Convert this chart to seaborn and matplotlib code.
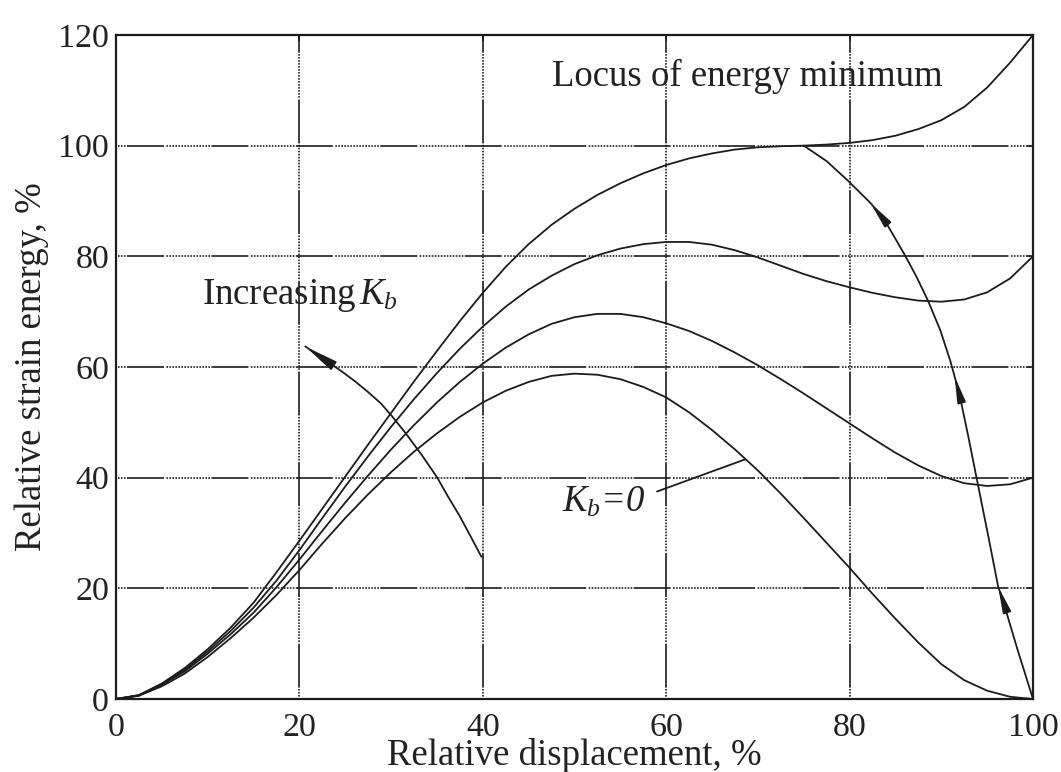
import matplotlib
matplotlib.use("Agg")
import matplotlib.pyplot as plt
import numpy as np
import pandas as pd
import seaborn as sns

# Relative displacement (%) at which the strain-energy curves are tabulated
displacement = [0, 2.5, 5, 7.5, 10, 12.5, 15, 17.5, 20, 22.5, 25, 27.5, 30, 32.5,
                35, 37.5, 40, 42.5, 45, 47.5, 50, 52.5, 55, 57.5, 60, 62.5, 65,
                67.5, 70, 72.5, 75, 77.5, 80, 82.5, 85, 87.5, 90, 92.5, 95, 97.5, 100]

# Relative strain energy (%) for four bending stiffnesses, highest K_b first
energy_kb3 = [0, 0.7, 2.8, 5.6, 9.0, 12.9, 17.4, 22.9, 28.6, 34.4, 40.2, 46.0, 51.7,
              57.4, 62.9, 68.3, 73.4, 78.1, 82.2, 85.7, 88.6, 91.1, 93.2, 95.0, 96.5,
              97.7, 98.6, 99.3, 99.7, 99.9, 100.0, 100.2, 100.5, 101.0, 101.8, 103.0,
              104.6, 107.0, 110.5, 115.0, 120.0]
energy_kb2 = [0, 0.7, 2.7, 5.3, 8.6, 12.3, 16.5, 21.4, 26.9, 32.7, 38.4, 43.9, 49.2,
              54.2, 58.9, 63.3, 67.3, 70.9, 74.0, 76.5, 78.6, 80.2, 81.4, 82.2, 82.6,
              82.6, 82.1, 81.1, 79.8, 78.3, 76.8, 75.5, 74.4, 73.4, 72.6, 72.0, 71.8,
              72.2, 73.5, 76.0, 80.0]
energy_kb1 = [0, 0.6, 2.6, 5.0, 8.2, 11.7, 15.6, 20.2, 25.2, 30.4, 35.5, 40.4, 45.1,
              49.5, 53.6, 57.3, 60.6, 63.5, 65.9, 67.8, 69.0, 69.6, 69.6, 69.0, 67.9,
              66.5, 64.7, 62.6, 60.3, 57.8, 55.2, 52.5, 49.8, 47.1, 44.5, 42.2, 40.3,
              39.0, 38.5, 38.8, 40.0]
energy_kb0 = [0, 0.6, 2.3, 4.6, 7.6, 11.0, 14.7, 18.8, 23.3, 28.1, 32.7, 37.0, 41.0,
              44.7, 48.0, 51.0, 53.6, 55.7, 57.3, 58.4, 58.8, 58.6, 57.8, 56.4, 54.5,
              51.8, 48.6, 45.1, 41.3, 37.1, 32.7, 28.2, 23.7, 19.0, 14.5, 10.2, 6.3,
              3.4, 1.5, 0.4, 0.0]

# Locus of the energy minimum
locus_x = [75.0, 77.5, 79.8, 82.3, 83.9, 86.0, 87.3, 88.6, 89.9, 91.0, 91.45, 92.0,
           92.9, 94.0, 95.2, 96.2, 96.7, 98.3, 100.0]
locus_y = [100.0, 97.2, 93.7, 89.6, 86.3, 80.3, 76.3, 71.8, 66.6, 61.0, 58.3, 54.9,
           47.8, 38.7, 28.8, 20.3, 17.9, 9.0, 0.0]
locus_arrow_tips = [3, 10, 15]  # arrowheads point back up the locus

# "Increasing K_b" pointer
kb_arrow_x = [39.85, 38.7, 37.5, 36.2, 35.0, 33.3, 31.6, 30.2, 28.9, 27.4, 26.0,
              24.7, 23.4, 22.0, 20.65]
kb_arrow_y = [25.7, 29.3, 33.0, 36.6, 40.1, 44.2, 48.0, 50.9, 53.4, 55.6, 57.5,
              59.1, 60.6, 62.2, 63.7]

# "K_b = 0" leader line
kb0_leader_x = [59.0, 68.6]
kb0_leader_y = [37.5, 43.3]

x_ticks = [0, 20, 40, 60, 80, 100]
y_ticks = [0, 20, 40, 60, 80, 100, 120]

sns.set_theme(style="white")
plt.rcParams["font.family"] = ["Liberation Serif", "DejaVu Serif"]
plt.rcParams["mathtext.fontset"] = "custom"
plt.rcParams["mathtext.rm"] = "Liberation Serif"
plt.rcParams["mathtext.it"] = "Liberation Serif:italic"
plt.rcParams["lines.scale_dashes"] = False

INK = "#1c1c1c"
TEXT = "#222222"
PX = 0.72  # points per pixel at 100 dpi


def grid_dashes(period, solid, start, dot=3.0, on=1.6):
    """Dotted grid pattern broken by one solid dash per period (sizes in px)."""
    gap = dot - on
    n = int((period - solid - gap) // dot)
    spare = period - solid - gap - n * dot
    seq = [solid, gap + spare / 2]
    for i in range(n):
        seq += [on, gap if i < n - 1 else gap + spare / 2]
    offset = (period - start) % period
    return (offset * PX, [s * PX for s in seq])


fig = plt.figure(figsize=(10.61, 7.72), dpi=100)
ax = fig.add_axes([116 / 1061, 73 / 772, 917 / 1061, 664 / 772])

ax.yaxis.grid(True, color=INK, linewidth=1.2,
              linestyle=grid_dashes(187.5, 37, 114))
ax.xaxis.grid(True, color=INK, linewidth=1.2,
              linestyle=grid_dashes(190, 44, 20))
ax.set_axisbelow(True)

n = len(displacement)
curves = pd.DataFrame({
    "displacement": displacement * 4,
    "energy": energy_kb3 + energy_kb2 + energy_kb1 + energy_kb0,
    "curve": ["kb3"] * n + ["kb2"] * n + ["kb1"] * n + ["kb0"] * n,
})
sns.lineplot(data=curves, x="displacement", y="energy", hue="curve",
             palette=[INK] * 4, legend=False, linewidth=1.3, ax=ax,
             estimator=None, sort=False)

sns.lineplot(x=locus_x, y=locus_y, color=INK, linewidth=1.3, ax=ax,
             estimator=None, sort=False)
for i in locus_arrow_tips:
    ax.annotate("", xy=(locus_x[i], locus_y[i]),
                xytext=(locus_x[i + 1], locus_y[i + 1]),
                arrowprops=dict(arrowstyle="-|>,head_length=0.62,head_width=0.1",
                                mutation_scale=25, color=INK, lw=1.3,
                                shrinkA=0, shrinkB=0))

sns.lineplot(x=kb_arrow_x, y=kb_arrow_y, color=INK, linewidth=1.3, ax=ax,
             estimator=None, sort=False)
ax.annotate("", xy=(kb_arrow_x[-1], kb_arrow_y[-1]),
            xytext=(kb_arrow_x[-3], kb_arrow_y[-3]),
            arrowprops=dict(arrowstyle="-|>,head_length=0.8,head_width=0.12",
                            mutation_scale=25, color=INK, lw=1.3,
                            shrinkA=0, shrinkB=0))

ax.plot(kb0_leader_x, kb0_leader_y, color=INK, linewidth=1.3)

text_size = 26.5
ax.text(47.5, 110.8, "Locus of energy minimum", fontsize=text_size,
        color=TEXT, ha="left", va="baseline")
ax.text(9.4, 71.4, r"Increasing$\,K_b$", fontsize=text_size,
        color=TEXT, ha="left", va="baseline")
ax.text(57.7, 33.9, r"$K_b$=0", fontsize=text_size, style="italic",
        color=TEXT, ha="right", va="baseline")

ax.set_xlim(0, 100)
ax.set_ylim(0, 120)
ax.set_xticks(x_ticks)
ax.set_yticks(y_ticks)
ax.set_xticklabels([str(t) for t in x_ticks])
ax.set_yticklabels([str(t) for t in y_ticks])
ax.tick_params(axis="both", direction="in", length=4, width=1.2, color=INK,
               top=True, right=True, labelsize=24.5, labelcolor=TEXT)
ax.tick_params(axis="x", pad=10)
ax.tick_params(axis="y", pad=5)

for side in ["left", "right", "top", "bottom"]:
    ax.spines[side].set_visible(True)
    ax.spines[side].set_color(INK)
    ax.spines[side].set_linewidth(1.6)

ax.set_xlabel("Relative displacement, %", fontsize=text_size, color=TEXT,
              va="baseline")
ax.set_ylabel("Relative strain energy, %", fontsize=text_size, color=TEXT)
ax.xaxis.set_label_coords(0.5, -0.1)
ax.yaxis.set_label_coords(-0.073, 0.5)

fig.savefig("out.png", dpi=100, facecolor="white")
